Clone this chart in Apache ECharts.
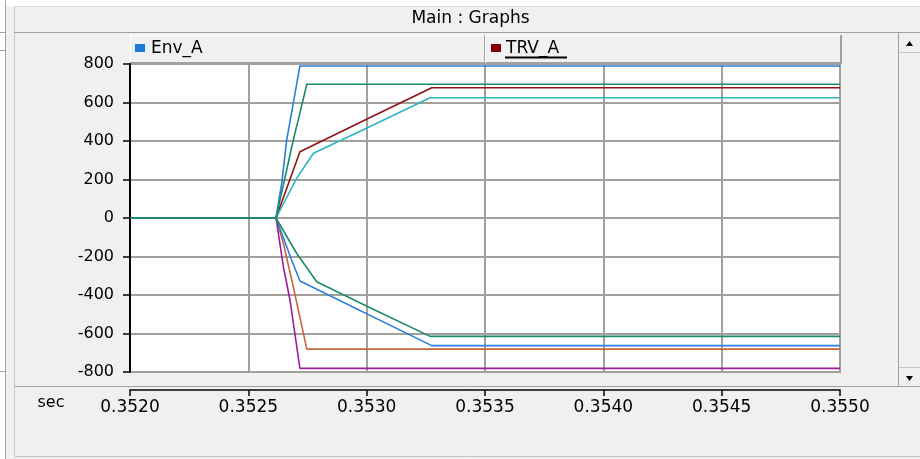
<!DOCTYPE html>
<html>
<head>
<meta charset="utf-8">
<script src="https://cdn.jsdelivr.net/npm/echarts@6/dist/echarts.min.js"></script>
<style>
html,body{margin:0;padding:0;background:#f0f0f0;}
#c{width:920px;height:459px;}
</style>
</head>
<body>
<div id="c"></div>
<script>
// ---- data (time in sec, value) ----
const xMin = 0.3520, xMax = 0.3550, xStep = 0.0005;
const yMin = -800, yMax = 800, yStep = 200;

const envUpperBlue   = [[0.3520,0],[0.352617,0],[0.352641,180],[0.352662,405],[0.352690,597],[0.352718,790],[0.3550,790]];
const envUpperGreen  = [[0.3520,0],[0.352617,0],[0.352690,405],[0.352718,545],[0.352747,695],[0.3550,695]];
const trvUpperRed    = [[0.3520,0],[0.352617,0],[0.352718,344],[0.352993,509],[0.353275,677],[0.3550,677]];
const trvUpperCyan   = [[0.3520,0],[0.352617,0],[0.352704,206],[0.352775,336],[0.352999,466],[0.353268,625],[0.3550,625]];
const envLowerGreen  = [[0.3520,0],[0.352617,0],[0.352704,-183],[0.352789,-331],[0.352999,-457],[0.353268,-615],[0.3550,-615]];
const envLowerBlue   = [[0.3520,0],[0.352617,0],[0.352683,-218],[0.352718,-327],[0.353275,-663],[0.3550,-663]];
const trvLowerOrange = [[0.3520,0],[0.352617,0],[0.352648,-131],[0.352690,-357],[0.352747,-681],[0.3550,-681]];
const trvLowerPurple = [[0.3520,0],[0.352617,0],[0.352648,-253],[0.352676,-426],[0.352718,-781],[0.3550,-781]];

const legendNames = ['Env_A', 'TRV_A'];

// ---- chart ----
const chart = echarts.init(document.getElementById('c'), null, {renderer:'canvas'});
const FONT = 'DejaVu Sans';
function mk(name, data, color){
  return {type:'line', name:name, data:data, showSymbol:false, symbol:'none',
    lineStyle:{color:color, width:1.6}, itemStyle:{color:color}, animation:false, z:3};
}
const W = 920;
const graphic = [
  {type:'rect', shape:{x:0,y:0,width:W,height:6}, style:{fill:'#ffffff'}, silent:true},
  {type:'rect', shape:{x:0,y:0,width:5,height:459}, style:{fill:'#ffffff'}, silent:true},
  {type:'line', shape:{x1:5.5,y1:0,x2:5.5,y2:459}, style:{stroke:'#a0a0a0',lineWidth:1}},
  {type:'line', shape:{x1:0,y1:32.5,x2:5,y2:32.5}, style:{stroke:'#a0a0a0',lineWidth:1}},
  {type:'line', shape:{x1:0,y1:50.5,x2:5,y2:50.5}, style:{stroke:'#a0a0a0',lineWidth:1}},
  {type:'line', shape:{x1:0,y1:371.5,x2:5,y2:371.5}, style:{stroke:'#a0a0a0',lineWidth:1}},
  {type:'line', shape:{x1:14.5,y1:6,x2:14.5,y2:456}, style:{stroke:'#c8c8c8',lineWidth:1}},
  {type:'line', shape:{x1:14,y1:6.5,x2:W,y2:6.5}, style:{stroke:'#d8d8d8',lineWidth:1}},
  {type:'line', shape:{x1:14,y1:32.5,x2:W,y2:32.5}, style:{stroke:'#a0a0a0',lineWidth:1}},
  {type:'text', x:470.5, y:19, style:{text:'Main : Graphs', font:'17px "DejaVu Sans"', fill:'#000', align:'center', verticalAlign:'middle'}},
  {type:'rect', shape:{x:130,y:35,width:711,height:28}, style:{fill:'#f0f0f0'}},
  {type:'line', shape:{x1:130,y1:35.5,x2:841,y2:35.5}, style:{stroke:'#ffffff',lineWidth:1}},
  {type:'line', shape:{x1:130.5,y1:35,x2:130.5,y2:63}, style:{stroke:'#ffffff',lineWidth:1}},
  {type:'line', shape:{x1:841,y1:35,x2:841,y2:64}, style:{stroke:'#a0a0a0',lineWidth:2}},
  {type:'line', shape:{x1:130,y1:62.5,x2:841,y2:62.5}, style:{stroke:'#a0a0a0',lineWidth:1}},
  {type:'line', shape:{x1:484.5,y1:35,x2:484.5,y2:63}, style:{stroke:'#a0a0a0',lineWidth:1}},
  {type:'line', shape:{x1:485.5,y1:35,x2:485.5,y2:63}, style:{stroke:'#ffffff',lineWidth:1}},
  {type:'rect', shape:{x:135,y:44,width:10,height:8}, style:{fill:'#1f78d6'}},
  {type:'text', x:151, y:48.5, style:{text:legendNames[0], font:'17px "DejaVu Sans"', fill:'#000', align:'left', verticalAlign:'middle'}},
  {type:'rect', shape:{x:491,y:44,width:10,height:8}, style:{fill:'#8b0000'}},
  {type:'text', x:506, y:48.5, style:{text:legendNames[1], font:'17px "DejaVu Sans"', fill:'#000', align:'left', verticalAlign:'middle'}},
  {type:'line', shape:{x1:505,y1:57.5,x2:567,y2:57.5}, style:{stroke:'#000',lineWidth:2}},
  {type:'line', shape:{x1:898.5,y1:33,x2:898.5,y2:387}, style:{stroke:'#a0a0a0',lineWidth:1}},
  {type:'line', shape:{x1:899,y1:52.5,x2:W,y2:52.5}, style:{stroke:'#c8c8c8',lineWidth:1}},
  {type:'line', shape:{x1:899,y1:367.5,x2:W,y2:367.5}, style:{stroke:'#c8c8c8',lineWidth:1}},
  {type:'polygon', shape:{points:[[906,46],[913,46],[909.5,41]]}, style:{fill:'#000'}},
  {type:'polygon', shape:{points:[[906,376],[913,376],[909.5,381]]}, style:{fill:'#000'}},
  {type:'line', shape:{x1:15,y1:386.5,x2:W,y2:386.5}, style:{stroke:'#a0a0a0',lineWidth:1}},
  {type:'line', shape:{x1:15,y1:456.5,x2:W,y2:456.5}, style:{stroke:'#c0c0c0',lineWidth:1}},
  {type:'text', x:51, y:403, style:{text:'sec', font:'16px "DejaVu Sans"', fill:'#000', align:'center', verticalAlign:'middle'}}
];

chart.setOption({
  backgroundColor:'#f0f0f0',
  animation:false,
  grid:{left:130, right:80, top:64, height:308, show:true, backgroundColor:'#ffffff', borderColor:'#a3a09c', borderWidth:2, containLabel:false},
  xAxis:{type:'value', min:xMin, max:xMax, interval:xStep, position:'bottom', offset:18,
    axisLine:{show:true, onZero:false, lineStyle:{color:'#000', width:1.5}},
    axisTick:{show:true, inside:false, length:6, lineStyle:{color:'#000', width:1.5}},
    axisLabel:{margin:9, color:'#000', fontFamily:FONT, fontSize:17, formatter:v=>v.toFixed(4), showMinLabel:true, showMaxLabel:true},
    splitLine:{show:true, lineStyle:{color:'#a3a09c', width:2}}},
  yAxis:{type:'value', min:yMin, max:yMax, interval:yStep,
    axisLine:{show:true, onZero:false, lineStyle:{color:'#000', width:2}},
    axisTick:{show:true, inside:false, length:7, lineStyle:{color:'#000', width:1.5}},
    axisLabel:{margin:16, color:'#000', fontFamily:FONT, fontSize:16},
    splitLine:{show:true, lineStyle:{color:'#a3a09c', width:2}}},
  series:[
    mk('Env_A upper', envUpperBlue, '#2a7fd8'),
    mk('TRV_A upper', trvUpperRed, '#8e1414'),
    mk('TRV_A upper 2', trvUpperCyan, '#2bb5c2'),
    mk('TRV_A lower', trvLowerOrange, '#c8673f'),
    mk('TRV_A lower 2', trvLowerPurple, '#9c1c9c'),
    mk('Env_A lower', envLowerBlue, '#2a7fd8'),
    mk('Env_A lower 2', envLowerGreen, '#1b8a6b'),
    mk('Env_A upper 2', envUpperGreen, '#1b8a6b')
  ],
  graphic:graphic
});
</script>
</body>
</html>
